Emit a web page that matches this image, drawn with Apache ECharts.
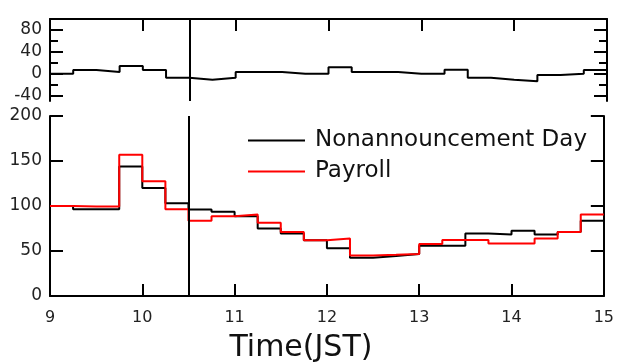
<!DOCTYPE html>
<html>
<head>
<meta charset="utf-8">
<script src="https://cdn.jsdelivr.net/npm/echarts@6/dist/echarts.min.js"></script>
<style>
  html, body { margin: 0; padding: 0; background: #fff; }
  #chart { width: 617px; height: 364px; }
</style>
</head>
<body>
<div id="chart"></div>
<script>
// 15-minute bins over the trading session (hours, JST)
const binStart = [9, 9.25, 9.5, 9.75, 10, 10.25, 10.5, 10.75,
                  11, 11.25, 11.5, 11.75, 12, 12.25, 12.5, 12.75,
                  13, 13.25, 13.5, 13.75, 14, 14.25, 14.5, 14.75];
const binWidth = 0.25;
const sessionEnd = 15;
const announcementTime = 10.5;

// Lower panel: activity per bin
const nonAnnouncementDay = [100, 96.5, 96.5, 144, 120, 103, 96, 93.5,
                            88.7, 75, 69.5, 62, 53, 42.5, 44.4, 46.6,
                            55.8, 55.8, 69.5, 68.4, 72.4, 68.4, 71, 83.5];
const payroll = [100, 99.5, 99.5, 157, 127.5, 96.5, 83.5, 88.7,
                 90.6, 81.3, 71, 62, 64, 45.1, 45.8, 46.6,
                 57.7, 62.1, 62.1, 58.4, 58.4, 64, 71, 90.6];

// Upper panel: Payroll minus non-announcement day
const difference = [0, 6.6, 3, 14, 6.6, -7.4, -11, -7.4,
                    3, 3, 0, 0, 11.6, 3, 3, 0,
                    0, 7.3, -7.4, -11, -14, -2.5, 0, 6.6];

const diffMajorTicks = [-40, 0, 40, 80];
const diffMinorTicks = [-20, 20, 60, 100];

const FONT = 'DejaVu Sans';
const AXIS_COLOR = '#000';

// Histogram outline: each bin is a flat segment from its start to its end
function stepData(values) {
  const pts = [];
  binStart.forEach((h, i) => {
    pts.push([h, values[i]]);
    pts.push([h + binWidth, values[i]]);
  });
  return pts;
}

const axisLine = { show: true, onZero: false, lineStyle: { color: AXIS_COLOR, width: 2 } };
const tickStyle = { color: AXIS_COLOR, width: 2 };
const labelStyle = { fontFamily: FONT, fontSize: 17, color: '#222' };

function diffAxis(position, ticks, len, withLine, withLabels) {
  return {
    gridIndex: 0, type: 'value', position: position, min: -50, max: 100,
    axisLine: withLine ? axisLine : { show: false },
    axisTick: { show: true, inside: true, length: len, customValues: ticks, lineStyle: tickStyle },
    axisLabel: withLabels
      ? Object.assign({ show: true, customValues: ticks, margin: 8 }, labelStyle)
      : { show: false },
    splitLine: { show: false }
  };
}

function levelAxis(position, withLabels) {
  return {
    gridIndex: 1, type: 'value', position: position, min: 0, max: 200, interval: 50,
    axisLine: axisLine,
    axisTick: { show: true, inside: true, length: 13, lineStyle: tickStyle },
    axisLabel: withLabels
      ? Object.assign({ show: true, margin: 8 }, labelStyle)
      : { show: false },
    splitLine: { show: false }
  };
}

const announcementLine = {
  silent: true, symbol: 'none', label: { show: false },
  lineStyle: { color: '#000', width: 2, type: 'solid' },
  data: [{ xAxis: announcementTime }]
};

const option = {
  animation: false,
  backgroundColor: '#fff',
  grid: [
    { left: 50, right: 10, top: 19, height: 82 },
    { left: 50, right: 10, top: 116, height: 180 }
  ],
  xAxis: [
    {
      gridIndex: 0, type: 'value', position: 'top', min: 9, max: sessionEnd, interval: 1,
      axisLine: axisLine,
      axisTick: { show: true, inside: true, length: 12, lineStyle: tickStyle },
      axisLabel: { show: false },
      splitLine: { show: false }
    },
    {
      gridIndex: 1, type: 'value', position: 'bottom', min: 9, max: sessionEnd, interval: 1,
      axisLine: axisLine,
      axisTick: { show: true, inside: true, length: 12, lineStyle: tickStyle },
      axisLabel: { show: true, fontFamily: FONT, fontSize: 16, color: '#222', margin: 14 },
      splitLine: { show: false },
      name: 'Time(JST)', nameLocation: 'middle', nameGap: 37,
      nameTextStyle: { fontFamily: FONT, fontSize: 30, color: '#111', padding: [0, 52, 0, 0] }
    }
  ],
  yAxis: [
    diffAxis('left', diffMajorTicks, 13, true, true),
    diffAxis('right', diffMajorTicks, 13, true, false),
    diffAxis('left', diffMinorTicks, 8, false, false),
    diffAxis('right', diffMinorTicks, 8, false, false),
    levelAxis('left', true),
    levelAxis('right', false)
  ],
  legend: {
    orient: 'vertical', left: 243, top: 124,
    icon: 'rect', itemWidth: 57, itemHeight: 2, itemGap: 8,
    textStyle: { fontFamily: FONT, fontSize: 23, lineHeight: 23, color: '#111', padding: [0, 0, 0, 5] },
    data: ['Nonannouncement Day', 'Payroll']
  },
  series: [
    {
      name: 'Difference', type: 'line', xAxisIndex: 0, yAxisIndex: 0,
      showSymbol: false, data: stepData(difference),
      lineStyle: { color: '#000', width: 2 }, itemStyle: { color: '#000' },
      markLine: announcementLine
    },
    {
      name: 'Nonannouncement Day', type: 'line', xAxisIndex: 1, yAxisIndex: 4,
      showSymbol: false, data: stepData(nonAnnouncementDay),
      lineStyle: { color: '#000', width: 2 }, itemStyle: { color: '#000' },
      markLine: announcementLine
    },
    {
      name: 'Payroll', type: 'line', xAxisIndex: 1, yAxisIndex: 4,
      showSymbol: false, data: stepData(payroll),
      lineStyle: { color: '#ff0000', width: 2 }, itemStyle: { color: '#ff0000' }
    }
  ]
};

echarts.init(document.getElementById('chart'), null, { renderer: 'canvas' }).setOption(option);
</script>
</body>
</html>
